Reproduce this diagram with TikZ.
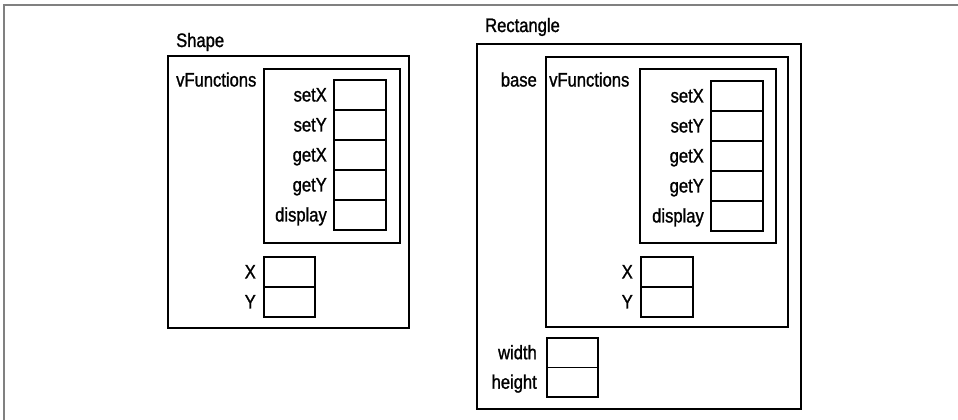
\documentclass[tikz,border=0pt]{standalone}
\usepackage{fontspec}
\setmainfont[FakeStretch=0.85,FakeBold=1.2]{Liberation Sans}
\begin{document}
\begin{tikzpicture}[x=1pt,y=-1pt,
  frameline/.style={draw=black!50, line width=1.3pt},
  cont/.style={draw, line width=1.9pt, inner sep=0pt, anchor=north west},
  slot/.style={draw, line width=1.9pt, inner sep=0pt, anchor=north west, minimum width=52pt, minimum height=30pt},
  lbl/.style={anchor=base east, inner sep=0pt, font=\fontsize{19.5}{22}\selectfont},
  ttl/.style={anchor=base west, inner sep=0pt, font=\fontsize{19.5}{22}\selectfont}]
\useasboundingbox (0,0) rectangle (958,420);
% page frame
\coordinate (fTL) at (4,5);
\coordinate (fTR) at (958,5);
\coordinate (fBL) at (4,420);
\draw[frameline] (fBL) -- (fTL) -- (fTR);

% ---------------- Shape ----------------
\node[ttl] (shapeT) at (176,47) {Shape};
\node[cont, minimum width=241pt, minimum height=272pt] (shapeBox) at (167,55) {};
\node[ttl] (shapeVFt) at (176,86.5) {vFunctions};
\node[cont, minimum width=136pt, minimum height=174pt] (shapeVF) at (263,68) {};
\foreach \n/\t [count=\i from 0] in {s1/setX,s2/setY,s3/getX,s4/getY,s5/display}{
  \node[slot] (shape\n) at (333,79+30*\i) {};
  \node[lbl] (shape\n l) at ([xshift=-6pt,yshift=-6.5pt]shape\n.west) {\t};
}
\node[slot, minimum width=51pt] (shapeX) at (263,256) {};
\node[lbl] (shapeXl) at ([xshift=-7pt,yshift=-6.5pt]shapeX.west) {X};
\node[slot, minimum width=51pt] (shapeY) at (263,286) {};
\node[lbl] (shapeYl) at ([xshift=-7pt,yshift=-6.5pt]shapeY.west) {Y};

% ---------------- Rectangle ----------------
\node[ttl] (rectT) at (485,32) {Rectangle};
\node[cont, minimum width=324pt, minimum height=365pt] (rectBox) at (476,43) {};
\node[cont, minimum width=242pt, minimum height=270pt] (rectBase) at (545,56) {};
\node[lbl] (rectBaset) at (537,86.5) {base};
\node[ttl] (rectVFt) at (549,86.5) {vFunctions};
\node[cont, minimum width=136pt, minimum height=174pt] (rectVF) at (639,68) {};
\foreach \n/\t [count=\i from 0] in {s1/setX,s2/setY,s3/getX,s4/getY,s5/display}{
  \node[slot] (rect\n) at (710,80+30*\i) {};
  \node[lbl] (rect\n l) at ([xshift=-6pt,yshift=-6.5pt]rect\n.west) {\t};
}
\node[slot] (rectX) at (640,256) {};
\node[lbl] (rectXl) at ([xshift=-7pt,yshift=-6.5pt]rectX.west) {X};
\node[slot] (rectY) at (640,286) {};
\node[lbl] (rectYl) at ([xshift=-7pt,yshift=-6.5pt]rectY.west) {Y};
\node[slot, minimum width=51pt, minimum height=29.5pt] (rectW) at (546,337) {};
\node[lbl] (rectWl) at ([xshift=-9pt,yshift=-6.5pt]rectW.west) {width};
\node[slot, minimum width=51pt, minimum height=29.5pt] (rectH) at (546,366.5) {};
\node[lbl] (rectHl) at ([xshift=-9pt,yshift=-6.5pt]rectH.west) {height};
\end{tikzpicture}
\end{document}
